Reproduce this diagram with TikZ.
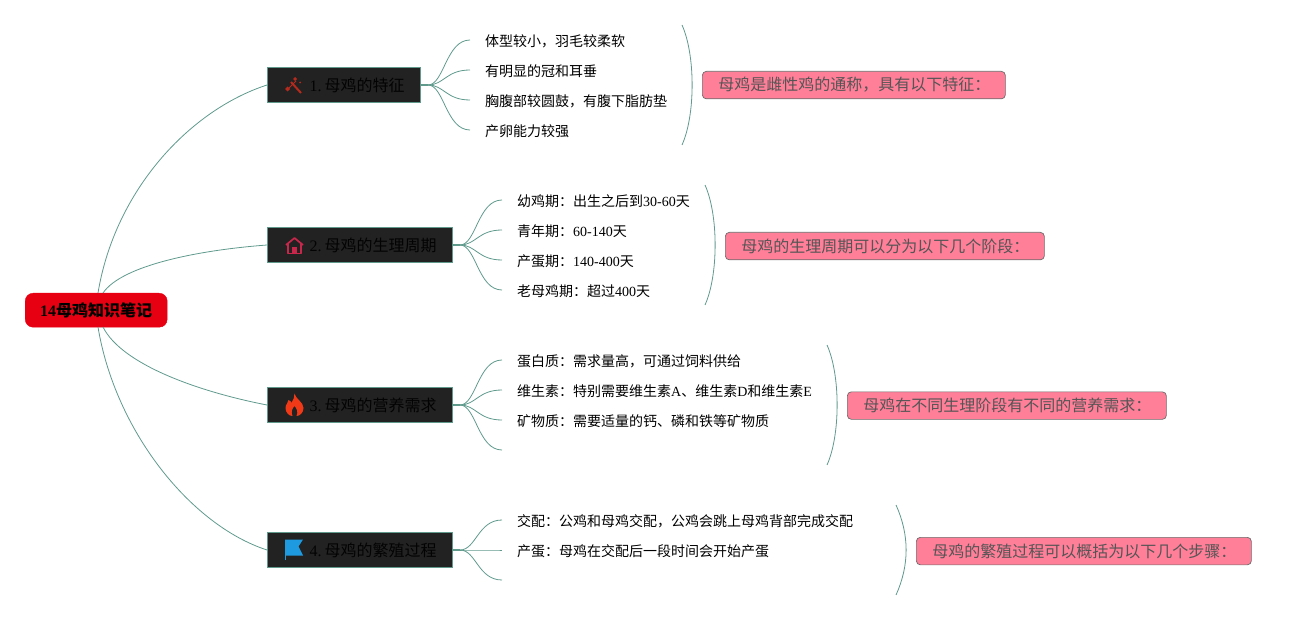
\documentclass[tikz,border=0pt]{standalone}
\usepackage{fontspec}
\setmainfont{Liberation Serif}
\newfontfamily\cjk{Noto Sans CJK SC}
\newcommand{\C}[1]{{\cjk #1}}
\newcommand{\FC}{\symbol{"FF0C}}
\newcommand{\FD}{\symbol{"FF1A}}
\definecolor{linkc}{HTML}{5F9A8C}
\definecolor{boxfill}{HTML}{222222}
\definecolor{rootred}{HTML}{E60012}
\definecolor{pinkc}{HTML}{FF7F99}
\definecolor{pinktext}{HTML}{555555}
\definecolor{toolc}{HTML}{B52A1C}
\definecolor{housec}{HTML}{C8264A}
\definecolor{flamec}{HTML}{F03A17}
\definecolor{flagc}{HTML}{1E9BE0}
\tikzset{
  link/.style={draw=linkc,line width=0.8pt},
  stub/.style={draw=linkc,line width=1.6pt},
  rootbox/.style={draw=rootred,fill=rootred,rounded corners=8pt,minimum width=142pt,minimum height=34pt,inner sep=0pt,anchor=north west,font=\fontsize{16}{18}\selectfont\bfseries,text=black},
  topicbox/.style={draw=linkc,fill=boxfill,line width=1pt,inner sep=0pt,minimum height=35pt,anchor=north west,font=\fontsize{16}{18}\selectfont,text=black!92!boxfill},
  leaf/.style={anchor=west,inner sep=0pt,text height=13.6pt,text depth=3pt,font=\fontsize{14}{16}\selectfont,text=black},
  notebox/.style={draw=gray!85!black,fill=pinkc,rounded corners=4pt,line width=0.7pt,inner sep=0pt,minimum height=27.5pt,anchor=north west,font=\fontsize{16}{18}\selectfont,text=pinktext},
}
\begin{document}
\begin{tikzpicture}[x=1pt,y=-1pt]
\useasboundingbox (0,0) rectangle (1296,620);
% root and topics
\node[rootbox] (root) at (25,293) {\makebox[142pt][c]{14\C{母鸡知识笔记}}};
\node[topicbox] (t1) at (267,67) {\makebox[153pt][l]{\hspace*{42pt}1.\hspace{3pt}\C{母鸡的特征}}};
\node[topicbox] (t2) at (267,227) {\makebox[185pt][l]{\hspace*{42pt}2.\hspace{3pt}\C{母鸡的生理周期}}};
\node[topicbox] (t3) at (267,387) {\makebox[185pt][l]{\hspace*{42pt}3.\hspace{3pt}\C{母鸡的营养需求}}};
\node[topicbox] (t4) at (267,532) {\makebox[185pt][l]{\hspace*{42pt}4.\hspace{3pt}\C{母鸡的繁殖过程}}};
% anchors on root
\coordinate (r1) at (98,293);
\coordinate (r2) at (103,293);
\coordinate (r3) at (103,327);
\coordinate (r4) at (98,327);
\draw[link] (r1) .. controls (115,190) and (190,110) .. (t1.west);
\draw[link] (r2) .. controls (122,265) and (200,250) .. (t2.west);
\draw[link] (r3) .. controls (122,365) and (200,392) .. (t3.west);
\draw[link] (r4) .. controls (115,430) and (190,525) .. (t4.west);
% leaves group 1
\node[leaf] (a1) at (470,41) {\hspace*{15pt}\C{体型较小\FC{}羽毛较柔软}};
\node[leaf] (a2) at (470,71) {\hspace*{15pt}\C{有明显的冠和耳垂}};
\node[leaf] (a3) at (470,101) {\hspace*{15pt}\C{胸腹部较圆鼓\FC{}有腹下脂肪垫}};
\node[leaf] (a4) at (470,131) {\hspace*{15pt}\C{产卵能力较强}};
% group 2
\node[leaf] (b1) at (502,201) {\hspace*{15pt}\C{幼鸡期\FD{}出生之后到}30-60\C{天}};
\node[leaf] (b2) at (502,231) {\hspace*{15pt}\C{青年期\FD{}}60-140\C{天}};
\node[leaf] (b3) at (502,261) {\hspace*{15pt}\C{产蛋期\FD{}}140-400\C{天}};
\node[leaf] (b4) at (502,291) {\hspace*{15pt}\C{老母鸡期\FD{}超过}400\C{天}};
% group 3
\node[leaf] (c1) at (502,361) {\hspace*{15pt}\C{蛋白质\FD{}需求量高\FC{}可通过饲料供给}};
\node[leaf] (c2) at (502,391) {\hspace*{15pt}\C{维生素\FD{}特别需要维生素}A\C{、维生素}D\C{和维生素}E};
\node[leaf] (c3) at (502,421) {\hspace*{15pt}\C{矿物质\FD{}需要适量的钙、磷和铁等矿物质}};
\coordinate (c4) at (502,451);
% group 4
\node[leaf] (d1) at (502,521) {\hspace*{15pt}\C{交配\FD{}公鸡和母鸡交配\FC{}公鸡会跳上母鸡背部完成交配}};
\node[leaf] (d2) at (502,551) {\hspace*{15pt}\C{产蛋\FD{}母鸡在交配后一段时间会开始产蛋}};
\coordinate (d3) at (502,581);
% hubs
\coordinate (h1) at (428,85);
\coordinate (h2) at (460,245);
\coordinate (h3) at (460,405);
\coordinate (h4) at (460,550);
\draw[stub] (t1.east) -- (h1);
\draw[stub] (t2.east) -- (h2);
\draw[stub] (t3.east) -- (h3);
\draw[stub] (t4.east) -- (h4);
% branches
\foreach \h/\l in {h1/a1,h1/a2,h1/a3,h1/a4,h2/b1,h2/b2,h2/b3,h2/b4,h3/c1,h3/c2,h3/c3,h3/c4,h4/d1,h4/d2,h4/d3}{
  \draw[link] (\h) .. controls ([xshift=16pt]\h) and ([xshift=-24pt,yshift=1pt]\l.west) .. ([yshift=1pt]\l.west);
}
% brackets
\coordinate (ba) at (682,25); \coordinate (bb) at (682,145);
\coordinate (bc) at (705,185); \coordinate (bd) at (705,305);
\coordinate (be) at (827,345); \coordinate (bf) at (827,465);
\coordinate (bg) at (896,505); \coordinate (bh) at (896,595);
\foreach \u/\v in {ba/bb,bc/bd,be/bf,bg/bh}{
  \draw[link] (\u) .. controls ([xshift=13.5pt,yshift=-30pt]\u) and ([xshift=13.5pt,yshift=30pt]\v) .. (\v);
}
% notes
\node[notebox] (n1) at (702,71) {\makebox[303pt][l]{\hspace*{16pt}\C{母鸡是雌性鸡的通称\FC{}具有以下特征\FD{}}}};
\node[notebox] (n2) at (725,232) {\makebox[319pt][l]{\hspace*{16pt}\C{母鸡的生理周期可以分为以下几个阶段\FD{}}}};
\node[notebox] (n3) at (847,391.5) {\makebox[319pt][l]{\hspace*{16pt}\C{母鸡在不同生理阶段有不同的营养需求\FD{}}}};
\node[notebox] (n4) at (916,537) {\makebox[335pt][l]{\hspace*{16pt}\C{母鸡的繁殖过程可以概括为以下几个步骤\FD{}}}};
% icon: tools
\begin{scope}[shift={(294,86)}]
\draw[toolc,line width=2pt] (-3,-4) -- (7,7);
\fill[toolc] (-9,3) -- (-6.5,0.5) -- (-4,3) -- (-6.5,5.5) -- cycle;
\fill[toolc] (1,-9) -- (3,-7) -- (1,-5) -- (-1,-7) -- cycle;
\fill[toolc] (6,-4.5) -- (7,-3.5) -- (6,-2.5) -- (5,-3.5) -- cycle;
\draw[toolc,line width=1pt] (-7,4) -- (2,-5);
\end{scope}
% icon: house
\begin{scope}[shift={(294.5,246)}]
\draw[housec,line width=1.7pt,line join=round] (-8.5,-1) -- (0,-8) -- (8.5,-1);
\draw[housec,line width=1.7pt,line join=round] (-6.5,-2) -- (-6.5,7.5) -- (6.5,7.5) -- (6.5,-2);
\fill[housec] (-2.5,7.5) -- (-2.5,1.5) -- (2.5,1.5) -- (2.5,7.5) -- cycle;
\end{scope}
% icon: flame
\begin{scope}[shift={(294.5,405)}]
\fill[flamec] (0,-11.5) .. controls (1,-6) and (9,-3) .. (9,3) .. controls (9,8) and (5,11) .. (2,11)
  .. controls (4,7) and (2,3) .. (0,1) .. controls (-2,3) and (-4,7) .. (-2,11)
  .. controls (-6,11) and (-9,7) .. (-9,3) .. controls (-9,-1) and (-6,-2) .. (-6,-5)
  .. controls (-4,-4) and (-3,-3) .. (-3,-2) .. controls (-1,-5) and (0,-8) .. (0,-11.5) -- cycle;
\end{scope}
% icon: flag
\begin{scope}[shift={(294,549)}]
\fill[flagc] (-9,-9.5) -- (9,-9.5) -- (4.5,-2.5) -- (9,6.5) -- (-9,6.5) -- cycle;
\fill[flagc] (-9.5,-9.5) rectangle (-8,11);
\end{scope}
\end{tikzpicture}
\end{document}
